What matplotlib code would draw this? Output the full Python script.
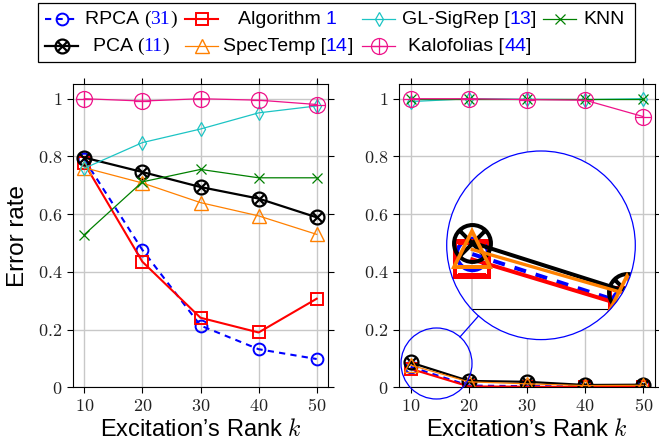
import numpy as np
import matplotlib
matplotlib.use("Agg")
import matplotlib.pyplot as plt
from matplotlib.path import Path
from matplotlib.patches import Circle, Rectangle
from matplotlib.ticker import FuncFormatter

plt.rcParams['font.family'] = ['Liberation Sans', 'DejaVu Sans']
plt.rcParams['mathtext.fontset'] = 'cm'

# ---- data ----
ranks = [10, 20, 30, 40, 50]

# left panel
rpca_l = [0.790, 0.476, 0.214, 0.132, 0.098]
alg1_l = [0.776, 0.435, 0.241, 0.190, 0.307]
glsig_l = [0.759, 0.848, 0.895, 0.951, 0.975]
knn_l = [0.529, 0.712, 0.755, 0.726, 0.726]
pca_l = [0.796, 0.746, 0.694, 0.654, 0.589]
spec_l = [0.761, 0.708, 0.640, 0.594, 0.530]
kalo_l = [1.000, 0.992, 1.000, 0.995, 0.980]

# right panel
rpca_r = [0.071, 0.006, 0.004, 0.003, 0.003]
alg1_r = [0.064, 0.003, 0.002, 0.001, 0.001]
glsig_r = [0.990, 1.000, 0.998, 0.997, 1.000]
knn_r = [1.000, 1.000, 1.000, 1.000, 1.000]
pca_r = [0.086, 0.022, 0.019, 0.008, 0.009]
spec_r = [0.077, 0.019, 0.012, 0.006, 0.007]
kalo_r = [1.000, 1.000, 0.997, 0.995, 0.938]

yticks = [0, 0.2, 0.4, 0.6, 0.8, 1]


# circle with x / circle with + markers
def circ_marker(diag):
    if diag:
        d = np.sqrt(0.5)
        segs = [[(-d, -d), (d, d)], [(-d, d), (d, -d)]]
    else:
        segs = [[(-1, 0), (1, 0)], [(0, -1), (0, 1)]]
    parts = [Path.unit_circle()] + [Path(s, [Path.MOVETO, Path.LINETO]) for s in segs]
    return Path.make_compound_path(*parts)


otimes = circ_marker(True)
oplus = circ_marker(False)

styles = {
    'rpca': dict(color='#0000ff', ls=(0, (3, 2.5)), lw=1.5, marker='o', ms=8.5, mew=1.4),
    'alg1': dict(color='#ff0000', ls='-', lw=1.5, marker='s', ms=9, mew=1.4),
    'pca': dict(color='black', ls='-', lw=1.6, marker=otimes, ms=10, mew=1.6),
    'spec': dict(color='#ff8000', ls='-', lw=0.9, marker='^', ms=10, mew=1.0),
    'glsig': dict(color='#1cc4c4', ls='-', lw=0.9, marker='d', ms=7, mew=0.9),
    'knn': dict(color='#008000', ls='-', lw=0.9, marker='x', ms=7, mew=0.9),
    'kalo': dict(color='#ee1289', ls='-', lw=0.9, marker=oplus, ms=11.5, mew=0.9),
}
order = ['rpca', 'alg1', 'pca', 'spec', 'glsig', 'knn', 'kalo']
left = dict(rpca=rpca_l, alg1=alg1_l, pca=pca_l, spec=spec_l, glsig=glsig_l, knn=knn_l, kalo=kalo_l)
right = dict(rpca=rpca_r, alg1=alg1_r, pca=pca_r, spec=spec_r, glsig=glsig_r, knn=knn_r, kalo=kalo_r)


def draw(ax, data, scale=1.0, clip=None):
    for key in order:
        st = dict(styles[key])
        if scale != 1.0:
            # magnified copy: markers grow, strokes are capped
            st['lw'] = min(st['lw'] * scale, 2.9)
            st['mew'] = min(st['mew'] * scale, 2.9)
            st['ms'] *= scale
        ln, = ax.plot(ranks, data[key], mfc='none', **st)
        if clip is not None:
            ln.set_clip_path(clip)


W, H = 659, 447
fig = plt.figure(figsize=(W / 100, H / 100), dpi=100)
ax1 = fig.add_axes([72.7 / W, 1 - 387.3 / H, 255.6 / W, 303 / H])
ax2 = fig.add_axes([399 / W, 1 - 387.3 / H, 256 / W, 303 / H])

fmt = FuncFormatter(lambda v, _: f'${v:g}$')
for ax, data in [(ax1, left), (ax2, right)]:
    draw(ax, data)
    ax.set_xlim(8, 52)
    ax.set_ylim(0, 1.05)
    ax.set_xticks(ranks)
    ax.set_yticks(yticks)
    ax.xaxis.set_major_formatter(fmt)
    ax.yaxis.set_major_formatter(fmt)
    ax.grid(True, color='#c8c8c8', lw=1.0)
    ax.set_axisbelow(True)
    ax.tick_params(direction='out', top=True, right=True, length=4.5, width=0.8,
                   labelsize=13, pad=3, labelcolor='#222222')
    for sp in ax.spines.values():
        sp.set_linewidth(0.8)
    ax.set_xlabel('Excitation’s Rank $k$', fontsize=17, labelpad=3)
ax1.set_ylabel('Error rate', fontsize=17.5, labelpad=6)

# magnified (spy) view on the right panel
big_c, big_r = (541.0, 245.3), 94.3
small_c, small_r = (436.5, 363.5), 35.5
mag = big_r / small_r
cx = 8 + (small_c[0] - 399) / (256 / 44)
cy = (387.3 - small_c[1]) / (303 / 1.05)
hx = small_r / (256 / 44)
hy = small_r / (303 / 1.05)
axi = fig.add_axes([(big_c[0] - big_r) / W, 1 - (big_c[1] + big_r) / H, 2 * big_r / W, 2 * big_r / H])
axi.set_xlim(cx - hx, cx + hx)
axi.set_ylim(cy - hy, cy + hy)
axi.axis('off')
clipc = Circle((0.5, 0.5), 0.5, transform=axi.transAxes, facecolor='white', edgecolor='none', zorder=0)
axi.add_patch(clipc)
g, = axi.plot([10, 10], [0, cy + hy], color='#c8c8c8', lw=1.2, zorder=0.5)
g.set_clip_path(clipc)
b, = axi.plot([10, cx + hx], [0, 0], color='black', lw=0.8, zorder=0.6)
b.set_clip_path(clipc)
draw(axi, right, scale=mag, clip=clipc)

# overlay in pixel coordinates: spy circles and legend
ov = fig.add_axes([0, 0, 1, 1])
ov.set_xlim(0, W)
ov.set_ylim(H, 0)
ov.axis('off')
ov.add_patch(Circle(small_c, small_r, fill=False, edgecolor='#0000ff', lw=0.9))
ov.add_patch(Circle(big_c, big_r, fill=False, edgecolor='#0000ff', lw=0.9))
dx, dy = big_c[0] - small_c[0], big_c[1] - small_c[1]
nrm = np.hypot(dx, dy)
ux, uy = dx / nrm, dy / nrm
ov.plot([small_c[0] + small_r * ux, big_c[0] - big_r * ux],
        [small_c[1] + small_r * uy, big_c[1] - big_r * uy], color='#0000ff', lw=0.9)

ov.add_patch(Rectangle((38.3, 2.7), 596.7, 59, facecolor='white', edgecolor='black', lw=0.9))

K, B = 'black', '#0000ff'
SANS, SERIF = 'Liberation Sans', 'Liberation Serif'
legend_rows = [
    ('rpca', 45, 18.5, 131, [('RPCA ', K, SANS), ('(', K, SERIF), ('31', B, SERIF), (')', K, SERIF)]),
    ('alg1', 185, 18.5, 287, [('Algorithm ', K, SANS), ('1', B, SANS)]),
    ('glsig', 362, 18.5, 469, [('GL-SigRep [', K, SANS), ('13', B, SANS), (']', K, SANS)]),
    ('knn', 543, 18.5, 604, [('KNN', K, SANS)]),
    ('pca', 45, 45.5, 131, [('PCA ', K, SANS), ('(', K, SERIF), ('11', B, SERIF), (')', K, SERIF)]),
    ('spec', 185, 45.5, 288, [('SpecTemp [', K, SANS), ('14', B, SANS), (']', K, SANS)]),
    ('kalo', 362, 45.5, 470, [('Kalofolias [', K, SANS), ('44', B, SANS), (']', K, SANS)]),
]
groups = []
for key, hx0, yy, tc, pieces in legend_rows:
    st = dict(styles[key])
    ov.plot([hx0, hx0 + 16.5, hx0 + 33], [yy, yy, yy], mfc='none', markevery=[1], **st)
    texts = []
    for s, col, fam in pieces:
        if not texts:
            t = ov.text(tc, yy + 1, s, color=col, family=fam, fontsize=14, va='center', ha='left')
        else:
            t = ov.annotate(s, xycoords=texts[-1], xy=(1, 0), va='bottom', ha='left',
                            color=col, family=fam, fontsize=14)
        texts.append(t)
    groups.append((tc, texts))

fig.canvas.draw()
rend = fig.canvas.get_renderer()
for tc, texts in groups:
    x0 = texts[0].get_window_extent(rend).x0
    x1 = texts[-1].get_window_extent(rend).x1
    texts[0].set_x(tc - (x1 - x0) / 2)

fig.savefig('out.png', dpi=100)
